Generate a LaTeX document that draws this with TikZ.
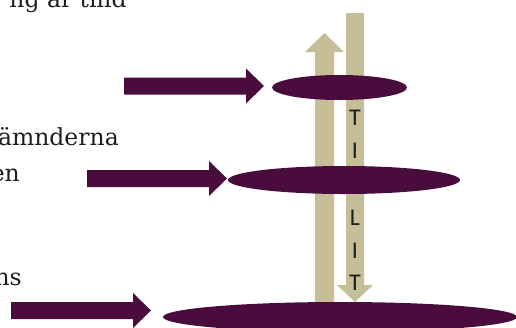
\documentclass[tikz,border=0pt]{standalone}
\usepackage{fontspec}
\setmainfont{DejaVu Serif}
\newfontfamily\lettersfont{Carlito}
\usetikzlibrary{shapes.geometric}
\definecolor{plum}{RGB}{73,12,61}
\definecolor{tanbar}{RGB}{197,190,151}
\definecolor{txt}{RGB}{30,30,30}
\tikzset{
  disc/.style={ellipse, fill=plum, inner sep=0pt, outer sep=0pt},
  pillar/.style={fill=tanbar},
  letter/.style={text=txt, font=\lettersfont\fontsize{24}{24}\selectfont, anchor=base, inner sep=0pt},
  side/.style={text=txt, font=\fontsize{23.5}{23.5}\selectfont, anchor=base east, inner sep=0pt},
  blockarrow/.pic={\fill[plum] (0,0) -- (-18,-17.5) -- (-18,-8.5) -- (-140,-8.5) -- (-140,8.5) -- (-18,8.5) -- (-18,17.5) -- cycle;}
}
\begin{document}
\begin{tikzpicture}[x=1pt,y=-1pt]
\clip (0,0) rectangle (516,327);
% side texts (cut off at the edges, as in the reference)
\node[side] (t0) at (127,7) {ng är tilld};
\node[side] (t1) at (119,145) {ämnderna};
\node[side] (t2) at (20,181) {en};
\node[side] (t3) at (22,285) {ns};
% pillars
\fill[pillar] (315,322) -- (315,52) -- (305,52) -- (324.5,33) -- (344,52) -- (334,52) -- (334,322) -- cycle;
\fill[pillar] (346,13) -- (364,13) -- (364,285) -- (373,285) -- (355,302) -- (337,285) -- (346,285) -- cycle;
% letters
\node[letter] (l1) at (355,125) {T};
\node[letter] (l2) at (355,158) {I};
\node[letter] (l3) at (355,225) {L};
\node[letter] (l4) at (355,258) {I};
\node[letter] (l5) at (355,290) {T};
% discs
\node[disc, minimum width=135pt, minimum height=25pt] (d1) at (339.5,87.5) {};
\node[disc, minimum width=232pt, minimum height=28pt] (d2) at (344,180) {};
\node[disc, minimum width=354pt, minimum height=30pt] (d3) at (340,317) {};
% block arrows
\pic at (264,86) {blockarrow};
\pic at (227,178.5) {blockarrow};
\pic at (151,310.5) {blockarrow};
\end{tikzpicture}
\end{document}
